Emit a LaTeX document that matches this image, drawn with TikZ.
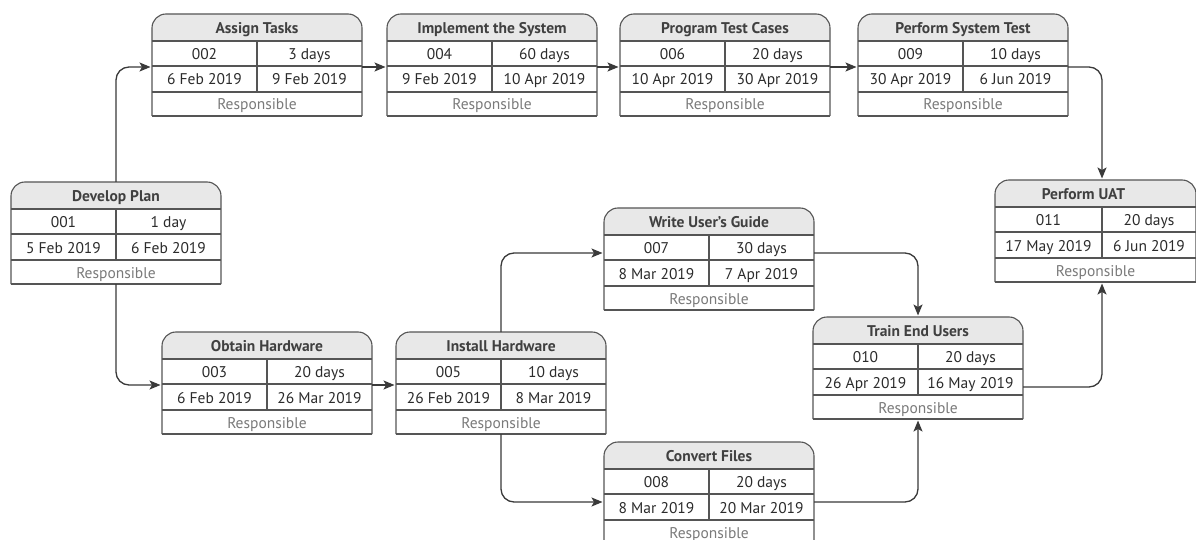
\documentclass[tikz,border=0pt]{standalone}
\usepackage{fontspec}
\setmainfont{PT Sans}
\usetikzlibrary{arrows.meta,calc}

\definecolor{edge}{HTML}{555555}
\definecolor{wirec}{HTML}{3A3A3A}
\definecolor{hdr}{HTML}{E8E8E8}
\definecolor{ink}{HTML}{2B2B2B}
\definecolor{soft}{HTML}{7A7A7A}

% box geometry (width, divider offset, title shift)
\newcommand\bw{210}
\newcommand\bd{105}
\newcommand\tdx{0}

\tikzset{
  box/.style={draw=none, minimum height=102pt, inner sep=0pt, outer sep=0pt},
  rule/.style={draw=edge, line width=1.1pt},
  txt/.style={inner sep=0pt, text height=11pt, text depth=0pt, font=\fontsize{15.5}{16}\selectfont},
  ttl/.style={txt, text=ink!90, font=\fontsize{15.5}{16}\selectfont\bfseries},
  cell/.style={txt, text=ink},
  resp/.style={txt, text=soft},
  wire/.style={draw=wirec, line width=1.3pt, rounded corners=13pt,
    -{Stealth[length=11pt,width=9pt,inset=2.5pt]}, shorten >=1.5pt},
}

% #1 name, #2 x, #3 top, #4 title, #5 id, #6 duration, #7 start, #8 finish
\newcommand{\taskbox}[8]{%
  \node[box, minimum width=\bw pt, anchor=north west] (#1) at (#2,#3) {};
  \fill[hdr, rounded corners=14pt] ($(#1.north west)+(0,27)$) -- (#1.north west)
     -- (#1.north east) -- ($(#1.north east)+(0,27)$);
  \coordinate (#1-dn) at ($(#1.north west)+(\bd,0)$);
  \coordinate (#1-ds) at ($(#1.south west)+(\bd,0)$);
  \coordinate (#1-l) at ($(#1.north west)+(0,53)$);
  \coordinate (#1-r) at ($(#1.north east)+(0,53)$);
  \draw[rule] ($(#1.north west)+(0,27)$) -- ($(#1.north east)+(0,27)$);
  \draw[rule] ($(#1.north west)+(0,52)$) -- ($(#1.north east)+(0,52)$);
  \draw[rule] ($(#1.north west)+(0,78)$) -- ($(#1.north east)+(0,78)$);
  \draw[rule] ($(#1.north west)+(\bd,27)$) -- ($(#1.north west)+(\bd,78)$);
  \draw[rule, rounded corners=14pt] (#1.south west) -- (#1.north west)
     -- (#1.north east) -- (#1.south east);
  \draw[rule] (#1.south west) -- (#1.south east);
  \node[ttl] (#1-t) at ($(#1.north west)+({\bw/2+\tdx},14)$) {#4};
  \node[cell] (#1-id) at ($(#1.north west)+({\bd/2},40)$) {#5};
  \node[cell] (#1-du) at ($(#1.north west)+({(\bd+\bw)/2},40)$) {#6};
  \node[cell] (#1-s) at ($(#1.north west)+({\bd/2},65.5)$) {#7};
  \node[cell] (#1-f) at ($(#1.north west)+({(\bd+\bw)/2},65.5)$) {#8};
  \node[resp] (#1-rp) at ($(#1.north west)+({\bw/2},90.5)$) {Responsible};
}

\begin{document}
\begin{tikzpicture}[x=1pt,y=-1pt]
  \useasboundingbox (0,0) rectangle (1196,540);
  \fill[white] (0,0) rectangle (1196,540);
  \clip (0,0) rectangle (1196,540);

  \taskbox{dp}{11}{182}{Develop Plan}{001}{1 day}{5 Feb 2019}{6 Feb 2019}
  \taskbox{at}{152}{14}{Assign Tasks}{002}{3 days}{6 Feb 2019}{9 Feb 2019}
  \taskbox{im}{387}{14}{Implement the System}{004}{60 days}{9 Feb 2019}{10 Apr 2019}
  \taskbox{pt}{620}{14}{Program Test Cases}{006}{20 days}{10 Apr 2019}{30 Apr 2019}
  \taskbox{st}{858}{14}{Perform System Test}{009}{10 days}{30 Apr 2019}{6 Jun 2019}
  \taskbox{oh}{162}{332}{Obtain Hardware}{003}{20 days}{6 Feb 2019}{26 Mar 2019}
  \taskbox{ih}{396}{332}{Install Hardware}{005}{10 days}{26 Feb 2019}{8 Mar 2019}
  \taskbox{wg}{604}{208}{Write User’s Guide}{007}{30 days}{8 Mar 2019}{7 Apr 2019}
  \taskbox{cf}{604}{442}{Convert Files}{008}{20 days}{8 Mar 2019}{20 Mar 2019}
  \taskbox{te}{813}{317}{Train End Users}{010}{20 days}{26 Apr 2019}{16 May 2019}
  \renewcommand\bw{201}\renewcommand\bd{107}\renewcommand\tdx{-12}
  \taskbox{ua}{995}{180}{Perform UAT}{011}{20 days}{17 May 2019}{6 Jun 2019}

  % dependencies
  \draw[wire] (dp.north) |- (at-l);
  \draw[wire] (dp.south) |- (oh-l);
  \draw[wire] (at-r) -- (im-l);
  \draw[wire] (im-r) -- (pt-l);
  \draw[wire] (pt-r) -- (st-l);
  \draw[wire] (st-r) -| (ua-dn);
  \draw[wire] (oh-r) -- (ih-l);
  \draw[wire] (ih-dn) |- ([yshift=8pt]wg-l);
  \draw[wire] (ih-ds) |- ([yshift=-7pt]cf-l);
  \draw[wire] ([yshift=8pt]wg-r) -| (te-dn);
  \draw[wire] ([yshift=-7pt]cf-r) -| (te-ds);
  \draw[wire] ([yshift=-17pt]te-r) -| (ua-ds);
\end{tikzpicture}
\end{document}
